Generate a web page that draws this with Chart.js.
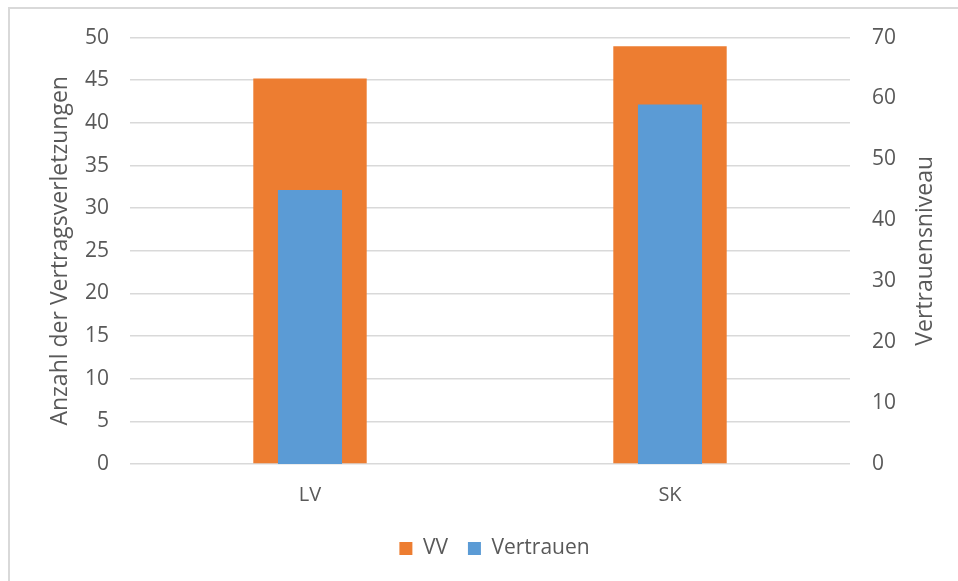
<!DOCTYPE html>
<html>
<head>
<meta charset="utf-8">
<script src="https://cdn.jsdelivr.net/npm/chart.js@4.4.0/dist/chart.umd.min.js"></script>
<style>
  body { margin: 0; background: #fff; }
  #frame {
    position: absolute; left: 8px; top: 7px;
    width: 960px; height: 590px;
    border-left: 2px solid #d9d9d9; border-top: 2px solid #d9d9d9;
  }
  canvas { position: absolute; left: 0; top: -6px; }
</style>
</head>
<body>
<div id="frame"><canvas id="chart" width="940" height="578"></canvas></div>
<script>
const categories = ['LV', 'SK'];
const vvValues = [45.2, 49];
const trustValues = [45, 59];
const leftTicks = [0, 5, 10, 15, 20, 25, 30, 35, 40, 45, 50];
const rightTicks = [0, 10, 20, 30, 40, 50, 60, 70];

const textColor = '#595959';
const fontFamily = '"Open Sans", "Liberation Sans", sans-serif';

// right axis title reads bottom-to-top, so draw it ourselves
const rightTitle = {
  id: 'rightTitle',
  afterDraw(chart) {
    const ctx = chart.ctx;
    const area = chart.chartArea;
    ctx.save();
    ctx.translate(915, (area.top + area.bottom) / 2);
    ctx.rotate(-Math.PI / 2);
    ctx.fillStyle = textColor;
    ctx.font = '23px ' + fontFamily;
    ctx.textAlign = 'center';
    ctx.textBaseline = 'middle';
    ctx.fillText('Vertrauensniveau', 0, 0);
    ctx.restore();
  }
};

new Chart(document.getElementById('chart'), {
  type: 'bar',
  data: {
    labels: categories,
    datasets: [
      {
        label: 'VV',
        data: vvValues,
        backgroundColor: '#ED7D31',
        yAxisID: 'y',
        order: 2,
        categoryPercentage: 1,
        barPercentage: 0.315
      },
      {
        label: 'Vertrauen',
        data: trustValues,
        backgroundColor: '#5B9BD5',
        yAxisID: 'y2',
        order: 1,
        categoryPercentage: 1,
        barPercentage: 0.178
      }
    ]
  },
  options: {
    responsive: false,
    animation: false,
    grouped: false,
    layout: { padding: { top: 29, left: 29, right: 0, bottom: 12 } },
    plugins: {
      tooltip: { enabled: false },
      legend: {
        position: 'bottom',
        labels: {
          boxWidth: 13, boxHeight: 13, padding: 20,
          color: textColor,
          font: { family: fontFamily, size: 21 },
          sort: (a, b) => a.datasetIndex - b.datasetIndex
        }
      }
    },
    scales: {
      x: {
        grid: { display: false, drawTicks: false },
        border: { display: false },
        ticks: { color: textColor, font: { family: fontFamily, size: 20 }, padding: 19 },
        afterFit: s => { s.height = 54; }
      },
      y: {
        position: 'left',
        min: 0, max: 50,
        afterBuildTicks: s => { s.ticks = leftTicks.map(v => ({ value: v })); },
        grid: { color: '#d9d9d9', lineWidth: 1.5, drawTicks: false },
        border: { display: false },
        ticks: { color: textColor, font: { family: fontFamily, size: 21 }, padding: 21 },
        title: {
          display: true,
          text: 'Anzahl der Vertragsverletzungen',
          color: textColor,
          font: { family: fontFamily, size: 23 },
          padding: { top: 8, bottom: 0 }
        },
        afterFit: s => { s.width = 91; }
      },
      y2: {
        position: 'right',
        min: 0, max: 70,
        afterBuildTicks: s => { s.ticks = rightTicks.map(v => ({ value: v })); },
        grid: { display: false, drawTicks: false },
        border: { display: false },
        ticks: { color: textColor, font: { family: fontFamily, size: 21 }, padding: 22 },
        afterFit: s => { s.width = 100; }
      }
    }
  },
  plugins: [rightTitle]
});
</script>
</body>
</html>
